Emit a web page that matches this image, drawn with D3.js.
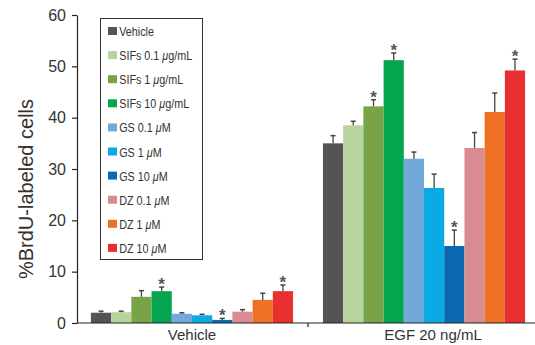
<!DOCTYPE html>
<html lang="en">
<head>
<meta charset="utf-8">
<title>BrdU chart</title>
<script src="https://d3js.org/d3.v7.min.js"></script>
<style>
  body { margin: 0; background: #fff; }
  svg text { font-family: "Liberation Sans", Arial, sans-serif; fill: #333; }
  .legend text { font-family: "Liberation Sans Narrow", "Liberation Sans", Arial, sans-serif; font-size: 13px; }
</style>
</head>
<body>
<script>
// groups on the x axis and the treatments inside each group
var groups = ["Vehicle", "EGF 20 ng/mL"];
var series = ["Vehicle", "SIFs 0.1 ", "SIFs 1 ", "SIFs 10 ", "GS 0.1 ", "GS 1 ", "GS 10 ", "DZ 0.1 ", "DZ 1 ", "DZ 10 "];
var units = ["", "g/mL", "g/mL", "g/mL", "M", "M", "M", "M", "M", "M"];
var colors = ["#545456", "#b6d49c", "#78a346", "#05a550", "#72a9db", "#0aaae3", "#0a69b2", "#d98b92", "#ee7024", "#ea2f30"];

var vehicleVals = [2.0, 2.1, 5.1, 6.2, 1.8, 1.5, 0.6, 2.2, 4.5, 6.2];
var vehicleErr  = [0.3, 0.2, 1.2, 0.8, 0.2, 0.2, 0.3, 0.4, 1.3, 1.2];
var egfVals = [35.0, 38.5, 42.2, 51.2, 32.0, 26.3, 15.0, 34.1, 41.1, 49.2];
var egfErr  = [1.5, 0.8, 1.3, 1.4, 1.3, 2.7, 3.1, 3.0, 3.7, 2.2];
var vehicleStar = [false, false, false, true, false, false, true, false, false, true];
var egfStar = [false, false, true, true, false, false, true, false, false, true];

var yTicks = [0, 10, 20, 30, 40, 50, 60];

var W = 535, H = 345;
var svg = d3.select("body").append("svg").attr("width", W).attr("height", H);

var y = d3.scaleLinear().domain([0, 60]).range([323, 15]);
var x0 = d3.scaleBand().domain(groups).range([77, 539]).paddingInner(0.129).paddingOuter(0.06);
var x1 = d3.scaleBand().domain(d3.range(series.length)).range([0, x0.bandwidth()]);

var data = [
  {g: groups[0], vals: vehicleVals, err: vehicleErr, star: vehicleStar},
  {g: groups[1], vals: egfVals, err: egfErr, star: egfStar}
];

// bars
data.forEach(function(grp) {
  var gg = svg.append("g").attr("transform", "translate(" + x0(grp.g) + ",0)");
  gg.selectAll("rect").data(grp.vals).enter().append("rect")
    .attr("x", function(d, i) { return x1(i); })
    .attr("width", x1.bandwidth())
    .attr("y", function(d) { return y(d); })
    .attr("height", function(d) { return y(0) - y(d); })
    .attr("fill", function(d, i) { return colors[i]; });

  // error bars (upper only)
  grp.vals.forEach(function(v, i) {
    var cx = x1(i) + x1.bandwidth() / 2;
    var top = y(v + grp.err[i]);
    gg.append("line").attr("x1", cx).attr("x2", cx).attr("y1", y(v)).attr("y2", top)
      .attr("stroke", "#444").attr("stroke-width", 1.3);
    gg.append("line").attr("x1", cx - 2.5).attr("x2", cx + 2.5).attr("y1", top).attr("y2", top)
      .attr("stroke", "#444").attr("stroke-width", 1.5);
    if (grp.star[i]) {
      gg.append("text").attr("x", cx).attr("y", top + 3)
        .attr("text-anchor", "middle").attr("font-size", 17).attr("font-weight", "bold").style("fill", "#555")
        .text("*");
    }
  });
});

// y axis
var yAxis = d3.axisLeft(y).tickValues(yTicks).tickSize(5).tickSizeOuter(0).tickPadding(6);
var ya = svg.append("g").attr("transform", "translate(77,0)").call(yAxis);
ya.selectAll("text").attr("font-size", 16).style("font-family", "'Liberation Sans', Arial, sans-serif").style("fill", "#333");
ya.selectAll("line, path").attr("stroke", "#222").attr("stroke-width", 1.2);

// x axis
svg.append("line").attr("x1", 77).attr("x2", W).attr("y1", y(0)).attr("y2", y(0))
  .attr("stroke", "#222").attr("stroke-width", 1.2);
var midTick = x0(groups[1]) - x0.step() * x0.paddingInner() / 2;
svg.append("line").attr("x1", midTick).attr("x2", midTick).attr("y1", y(0)).attr("y2", y(0) + 4)
  .attr("stroke", "#222").attr("stroke-width", 1.2);
var xLabOff = [0, 9];
svg.selectAll(".xlab").data(groups).enter().append("text")
  .attr("class", "xlab")
  .attr("x", function(d, i) { return x0(d) + x0.bandwidth() / 2 + xLabOff[i]; })
  .attr("y", 340)
  .attr("text-anchor", "middle").attr("font-size", 15)
  .text(function(d) { return d; });

// y label
svg.append("text")
  .attr("transform", "translate(33,189) rotate(-90)")
  .attr("text-anchor", "middle").attr("font-size", 20)
  .text("%BrdU-labeled cells");

// legend
var lg = svg.append("g").attr("class", "legend");
lg.append("rect").attr("x", 100.5).attr("y", 18.5).attr("width", 102).attr("height", 241)
  .attr("fill", "#fff").attr("stroke", "#333").attr("stroke-width", 1);
var items = lg.selectAll(".item").data(series).enter().append("g")
  .attr("transform", function(d, i) { return "translate(108," + (31 + i * 24.1) + ")"; });
items.append("rect").attr("x", 0).attr("y", -4).attr("width", 9).attr("height", 8)
  .attr("fill", function(d, i) { return colors[i]; });
var tx = items.append("text").attr("x", 13.5).attr("y", 5)
  .attr("transform", "scale(0.83,1)");
tx.append("tspan").text(function(d) { return d; });
tx.append("tspan").style("font-style", "italic").text(function(d, i) { return units[i] ? "\u03bc" : ""; });
tx.append("tspan").text(function(d, i) { return units[i]; });
</script>
</body>
</html>
